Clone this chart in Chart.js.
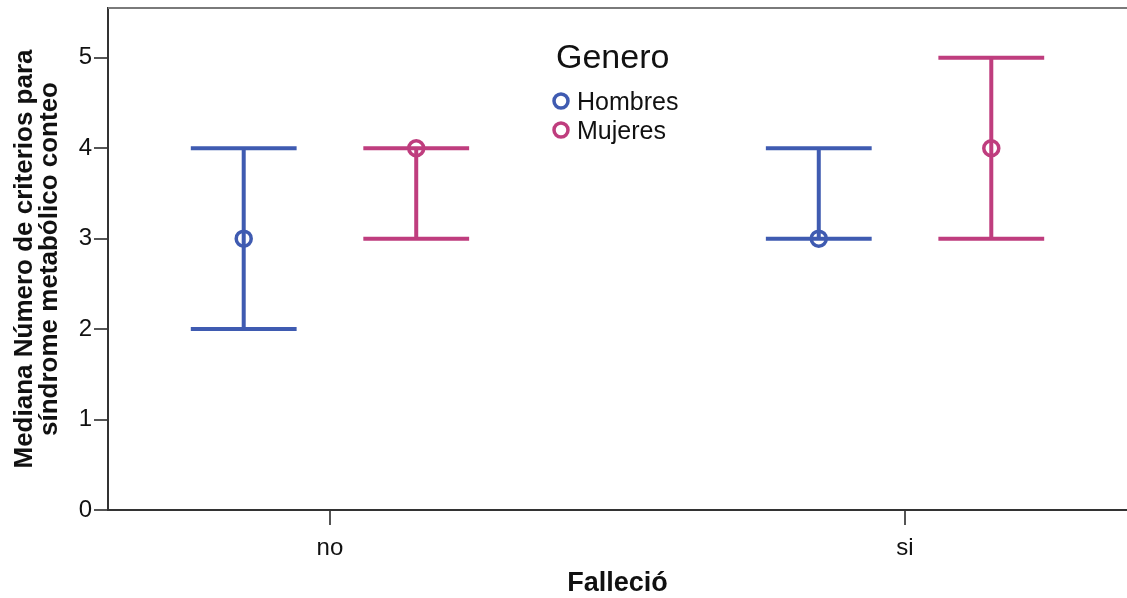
<!DOCTYPE html>
<html>
<head>
<meta charset="utf-8">
<script src="https://cdn.jsdelivr.net/npm/chart.js@4"></script>
<style>
  html, body { margin: 0; padding: 0; background: #fff; }
  #wrap { width: 1127px; height: 598px; }
</style>
</head>
<body>
<div id="wrap"><canvas id="c"></canvas></div>
<script>
const categories = ['no', 'si'];
const hombresMedian = [3, 3];
const hombresLow = [2, 3];
const hombresHigh = [4, 4];
const mujeresMedian = [4, 4];
const mujeresLow = [3, 3];
const mujeresHigh = [4, 5];
const yTicks = [0, 1, 2, 3, 4, 5];

const BLUE = '#3f5bb1';
const PINK = '#bf3d7e';
const FONT = "'Liberation Sans', Arial, sans-serif";

function points(med, low, high, offset) {
  return categories.map((c, i) => ({ x: i + offset, y: med[i], low: low[i], high: high[i] }));
}

const errorBars = {
  id: 'errorBars',
  beforeDatasetsDraw(chart) {
    const { ctx, scales: { x, y } } = chart;
    const capHalf = 0.092;
    chart.data.datasets.forEach(ds => {
      ctx.save();
      ctx.strokeStyle = ds.borderColor;
      ctx.lineWidth = 4;
      ds.data.forEach(p => {
        const px = x.getPixelForValue(p.x);
        const yl = y.getPixelForValue(p.low);
        const yh = y.getPixelForValue(p.high);
        const x0 = x.getPixelForValue(p.x - capHalf);
        const x1 = x.getPixelForValue(p.x + capHalf);
        ctx.beginPath();
        ctx.moveTo(px, yl); ctx.lineTo(px, yh);
        ctx.moveTo(x0, yl); ctx.lineTo(x1, yl);
        ctx.moveTo(x0, yh); ctx.lineTo(x1, yh);
        ctx.stroke();
      });
      ctx.restore();
    });
  }
};

const frame = {
  id: 'frame',
  afterDraw(chart) {
    const { ctx, chartArea: a } = chart;
    ctx.save();
    ctx.strokeStyle = '#7a7a7a';
    ctx.lineWidth = 2;
    ctx.beginPath();
    ctx.moveTo(a.left, a.top);
    ctx.lineTo(a.right, a.top);
    ctx.stroke();

    // legend
    ctx.fillStyle = '#111';
    ctx.textBaseline = 'middle';
    ctx.textAlign = 'left';
    ctx.font = '34px ' + FONT;
    ctx.fillText('Genero', 556, 59);
    ctx.font = '25px ' + FONT;
    chart.data.datasets.forEach((ds, i) => {
      const cy = 101 + i * 29;
      ctx.strokeStyle = ds.borderColor;
      ctx.lineWidth = 3.5;
      ctx.beginPath();
      ctx.arc(561, cy, 7, 0, Math.PI * 2);
      ctx.stroke();
      ctx.fillStyle = '#111';
      ctx.fillText(ds.label, 577, cy + 2);
    });
    ctx.restore();
  }
};

new Chart(document.getElementById('c'), {
  type: 'scatter',
  data: {
    datasets: [
      { label: 'Hombres', data: points(hombresMedian, hombresLow, hombresHigh, -0.15),
        borderColor: BLUE, backgroundColor: 'rgba(0,0,0,0)', pointRadius: 7.5, pointBorderWidth: 3.5 },
      { label: 'Mujeres', data: points(mujeresMedian, mujeresLow, mujeresHigh, 0.15),
        borderColor: PINK, backgroundColor: 'rgba(0,0,0,0)', pointRadius: 7.5, pointBorderWidth: 3.5 },
    ],
  },
  options: {
    responsive: true,
    maintainAspectRatio: false,
    animation: false,
    layout: { autoPadding: false, padding: { top: 8, right: 0, left: 0, bottom: 0 } },
    plugins: { legend: { display: false }, tooltip: { enabled: false } },
    scales: {
      x: {
        type: 'linear',
        min: -0.386,
        max: 1.386,
        afterBuildTicks: s => { s.ticks = categories.map((c, i) => ({ value: i })); },
        afterFit: s => { s.height = 88; s.paddingLeft = 0; s.paddingRight = 0; },
        ticks: {
          callback: v => categories[v],
          color: '#111',
          font: { family: FONT, size: 24 },
          padding: 9,
          maxRotation: 0,
        },
        grid: { drawOnChartArea: false, drawTicks: true, tickLength: 15, color: '#555', lineWidth: 2 },
        border: { display: true, color: '#333', width: 2 },
        title: { display: true, text: 'Falleció', color: '#111', font: { family: FONT, size: 27, weight: 'bold', lineHeight: 1 }, padding: { top: 9, bottom: 1 } },
      },
      y: {
        min: 0,
        max: 5.55,
        afterBuildTicks: s => { s.ticks = yTicks.map(v => ({ value: v })); },
        afterFit: s => { s.width = 108; s.paddingTop = 0; s.paddingBottom = 0; },
        ticks: {
          color: '#111',
          font: { family: FONT, size: 24 },
          padding: 2,
        },
        grid: { drawOnChartArea: false, drawTicks: true, tickLength: 14, color: '#555', lineWidth: 2 },
        border: { display: true, color: '#333', width: 2 },
        title: {
          display: true,
          text: ['Mediana Número de criterios para', 'síndrome metabólico conteo'],
          color: '#111',
          font: { family: FONT, size: 26, weight: 'bold', lineHeight: 0.98 },
          padding: { top: 12, bottom: 0 },
        },
      },
    },
  },
  plugins: [errorBars, frame],
});
</script>
</body>
</html>
